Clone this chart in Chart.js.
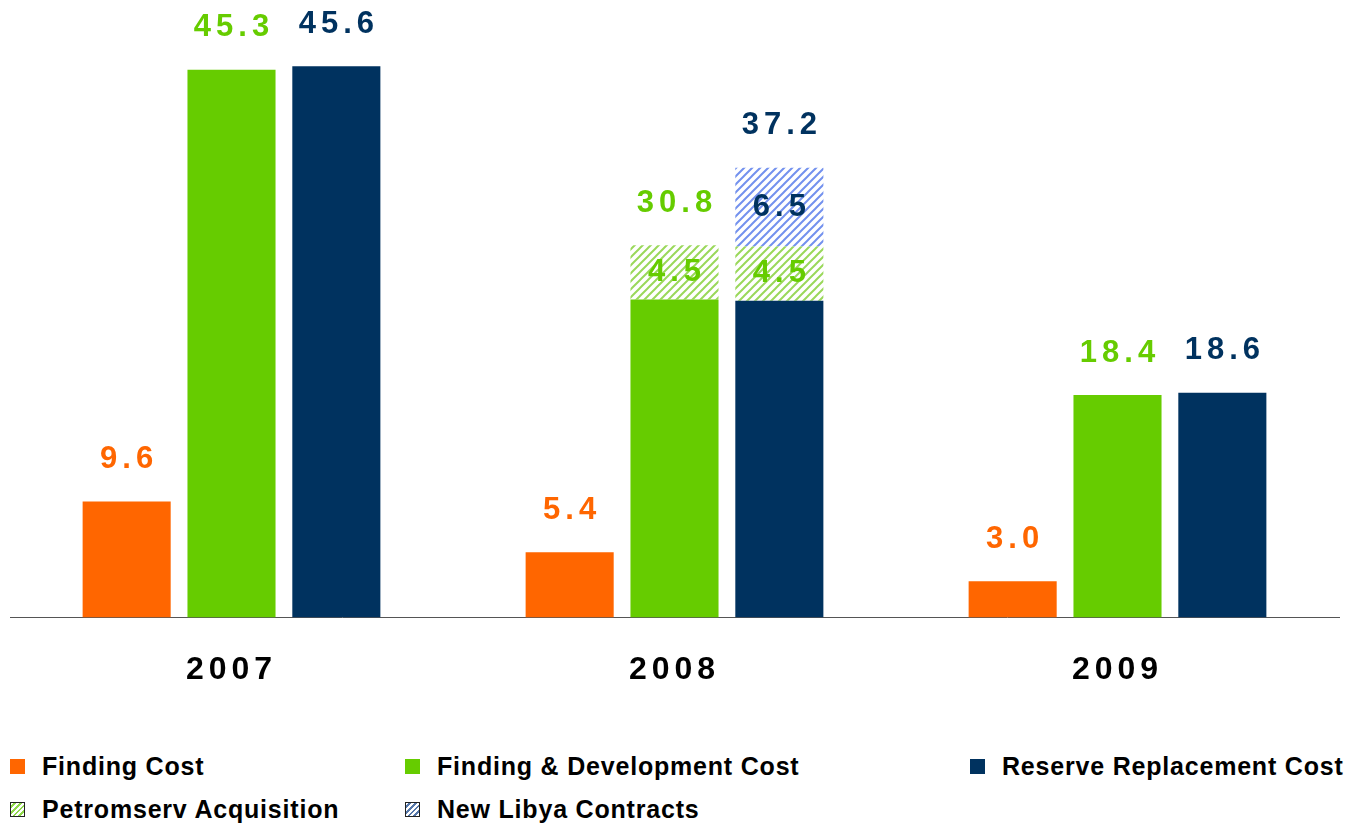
<!DOCTYPE html>
<html>
<head>
<meta charset="utf-8">
<script src="https://cdn.jsdelivr.net/npm/chart.js@4"></script>
<style>
  body { margin: 0; background: #fff; font-family: "Liberation Sans", Arial, sans-serif; }
  #wrap { position: relative; width: 1351px; height: 825px; }
  #chart-box { position: absolute; left: 0; top: 0; width: 1351px; height: 714px; }
  .legend-item { position: absolute; display: flex; align-items: center; font-weight: bold; font-size: 25px; letter-spacing: 0.8px; color: #000; white-space: nowrap; }
  .legend-item .box { width: 15px; height: 15px; margin-right: 17px; box-sizing: border-box; }
</style>
</head>
<body>
<div id="wrap">
  <div id="chart-box"><canvas id="costChart"></canvas></div>
  <div id="legend"></div>
</div>
<script>
const years = ['2007', '2008', '2009'];
const findingCost = [9.6, 5.4, 3.0];
const fdCost = [45.3, 26.3, 18.4];
const fdPetromserv = [null, 4.5, null];
const fdTotals = [45.3, 30.8, 18.4];
const rrCost = [45.6, 26.2, 18.6];
const rrPetromserv = [null, 4.5, null];
const rrLibya = [null, 6.5, null];
const rrTotals = [45.6, 37.2, 18.6];

const ORANGE = '#ff6600';
const GREEN = '#66cc00';
const NAVY = '#00325f';

function makeHatch(color) {
    const c = document.createElement('canvas');
    c.width = 8; c.height = 8;
    const g = c.getContext('2d');
    g.fillStyle = '#fff';
    g.fillRect(0, 0, 8, 8);
    g.strokeStyle = color;
    g.lineWidth = 2;
    g.beginPath();
    g.moveTo(-1, 9); g.lineTo(9, -1);
    g.moveTo(-1, 1); g.lineTo(1, -1);
    g.moveTo(7, 9); g.lineTo(9, 7);
    g.stroke();
    return g.createPattern(c, 'repeat');
}

const greenHatch = makeHatch('#9ad85a');
const blueHatch = makeHatch('#7391ee');

// value labels above stacks + inside hatched segments
const labelPlugin = {
    id: 'valueLabels',
    afterDatasetsDraw(chart) {
        const ctx = chart.ctx;
        const y = chart.scales.y;
        ctx.save();
        ctx.font = 'bold 31px "Liberation Sans", Arial, sans-serif';
        ctx.letterSpacing = '5px';
        ctx.textAlign = 'center';
        ctx.textBaseline = 'middle';
        const drawText = (txt, x, yy, color) => {
            ctx.fillStyle = color;
            ctx.fillText(txt, x + 2.5, yy);
        };
        const tops = [
            { ds: 0, totals: findingCost, color: ORANGE },
            { ds: 1, totals: fdTotals, color: GREEN },
            { ds: 3, totals: rrTotals, color: NAVY }
        ];
        tops.forEach(t => {
            const meta = chart.getDatasetMeta(t.ds);
            meta.data.forEach((bar, i) => {
                const top = y.getPixelForValue(t.totals[i]);
                drawText(t.totals[i].toFixed(1), bar.x, top - 42, t.color);
            });
        });
        const segs = [
            { ds: 2, color: GREEN },
            { ds: 4, color: GREEN },
            { ds: 5, color: NAVY }
        ];
        segs.forEach(s => {
            const meta = chart.getDatasetMeta(s.ds);
            const data = chart.data.datasets[s.ds].data;
            meta.data.forEach((bar, i) => {
                if (data[i] == null) return;
                drawText(data[i].toFixed(1), bar.x, (bar.y + bar.base) / 2, s.color);
            });
        });
        ctx.restore();
    }
};

const spacingPlugin = {
    id: 'tickSpacing',
    beforeDraw(chart) { chart.ctx.letterSpacing = '5px'; },
    beforeDatasetsDraw(chart) { chart.ctx.letterSpacing = '0px'; }
};

new Chart(document.getElementById('costChart'), {
    type: 'bar',
    data: {
        labels: years,
        datasets: [
            { label: 'Finding Cost', data: findingCost, backgroundColor: ORANGE, stack: 'fc' },
            { label: 'Finding & Development Cost', data: fdCost, backgroundColor: GREEN, stack: 'fd' },
            { label: 'Petromserv Acquisition', data: fdPetromserv, backgroundColor: greenHatch, stack: 'fd' },
            { label: 'Reserve Replacement Cost', data: rrCost, backgroundColor: NAVY, stack: 'rrc' },
            { label: 'Petromserv Acquisition', data: rrPetromserv, backgroundColor: greenHatch, stack: 'rrc' },
            { label: 'New Libya Contracts', data: rrLibya, backgroundColor: blueHatch, stack: 'rrc' }
        ]
    },
    options: {
        responsive: true,
        maintainAspectRatio: false,
        animation: false,
        categoryPercentage: 0.71,
        barPercentage: 0.84,
        layout: { padding: { top: 13, left: 10, right: 12, bottom: 0 } },
        scales: {
            x: {
                stacked: true,
                grid: { display: false },
                border: { display: true, color: '#555', width: 1 },
                ticks: {
                    color: '#000',
                    padding: 25,
                    font: { family: '"Liberation Sans", Arial, sans-serif', size: 32, weight: 'bold' }
                }
            },
            y: {
                stacked: true,
                display: false,
                min: 0,
                max: 50
            }
        },
        plugins: {
            legend: { display: false },
            tooltip: { enabled: false }
        }
    },
    plugins: [spacingPlugin, labelPlugin]
});

// html legend
const legendItems = [
    { text: 'Finding Cost', style: 'background:' + ORANGE, x: 10, y: 766 },
    { text: 'Finding & Development Cost', style: 'background:' + GREEN, x: 405, y: 766 },
    { text: 'Reserve Replacement Cost', style: 'background:' + NAVY, x: 970, y: 766 },
    { text: 'Petromserv Acquisition', style: 'border:1.5px solid #222;background:repeating-linear-gradient(135deg,#fff 0 2px,#8fd84a 2px 4px)', x: 10, y: 809 },
    { text: 'New Libya Contracts', style: 'border:1.5px solid #222;background:repeating-linear-gradient(135deg,#fff 0 2px,#5577aa 2px 4px)', x: 405, y: 809 }
];
const legend = document.getElementById('legend');
legendItems.forEach(item => {
    const div = document.createElement('div');
    div.className = 'legend-item';
    div.style.left = item.x + 'px';
    div.style.top = (item.y - 15) + 'px';
    div.style.height = '30px';
    div.innerHTML = `<span class="box" style="${item.style}"></span><span>${item.text}</span>`;
    legend.appendChild(div);
});
</script>
</body>
</html>
